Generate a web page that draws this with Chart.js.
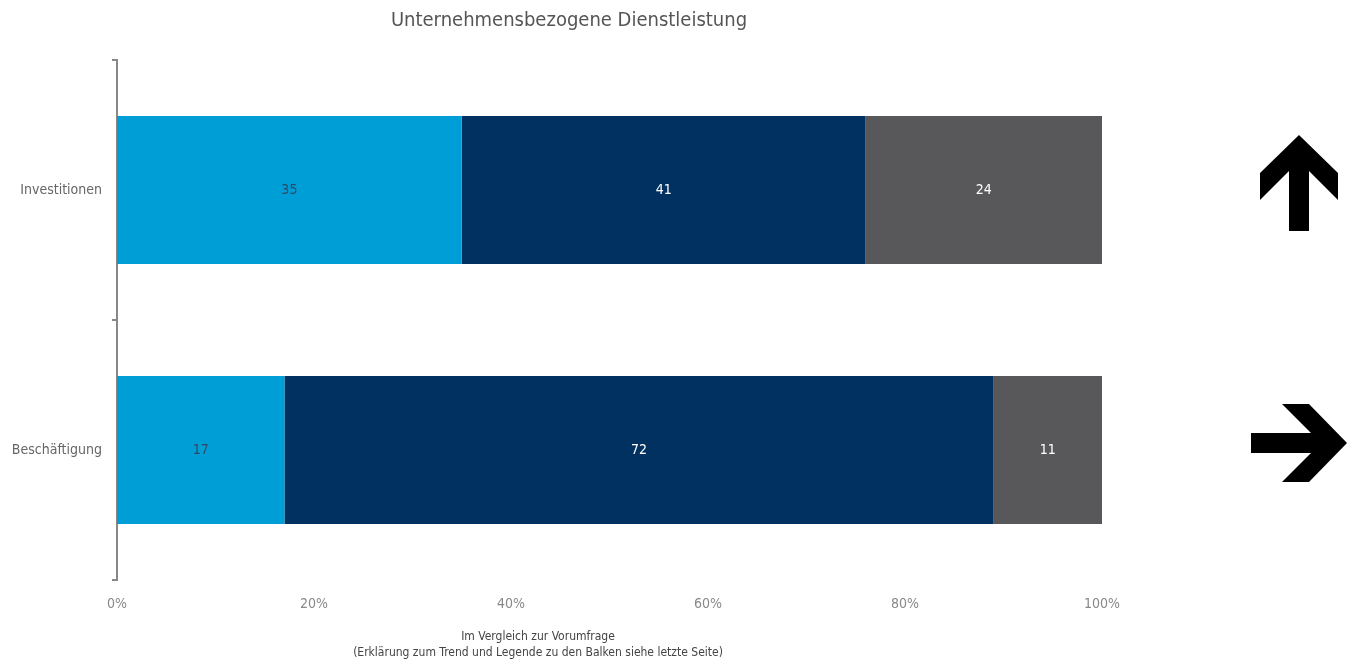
<!DOCTYPE html>
<html lang="de">
<head>
  <meta charset="UTF-8">
  <title>Unternehmensbezogene Dienstleistung</title>
  <script src="https://cdn.jsdelivr.net/npm/chart.js"></script>
  <style>
    html, body {
      margin: 0;
      padding: 0;
      background: #fff;
    }
    #wrap {
      position: relative;
      width: 1361px;
      height: 663px;
    }
  </style>
</head>
<body>
  <div id="wrap">
    <canvas id="chart"></canvas>
  </div>

  <script>
    // Chart data
    const categories = ['Investitionen', 'Beschäftigung'];
    const seriesNames = ['steigend', 'gleich', 'fallend'];
    const valuesUp = [35, 17];
    const valuesSame = [41, 72];
    const valuesDown = [24, 11];
    const trends = ['up', 'right']; // trend arrow per category
    const xTicks = [0, 20, 40, 60, 80, 100];

    const colors = ['#009ed6', '#003161', '#58585a'];
    const labelColors = ['#2b4a66', '#ffffff', '#ffffff'];
    const fontFamily = '"Liberation Sans Narrow", "DejaVu Sans Condensed", "Open Sans", sans-serif';

    const AXIS_LEFT = 117;
    const AXIS_TOP = 60;
    const AXIS_BOTTOM = 580;

    // value labels in the middle of each segment
    const segmentLabels = {
      id: 'segmentLabels',
      afterDatasetsDraw(chart) {
        const ctx = chart.ctx;
        ctx.save();
        ctx.font = '14px ' + fontFamily;
        ctx.textAlign = 'center';
        ctx.textBaseline = 'middle';
        chart.data.datasets.forEach((ds, di) => {
          const meta = chart.getDatasetMeta(di);
          meta.data.forEach((bar, i) => {
            const cx = (bar.x + bar.base) / 2;
            ctx.fillStyle = labelColors[di];
            ctx.fillText(String(ds.data[i]), cx, bar.y);
          });
        });
        ctx.restore();
      }
    };

    // title, footnote and trend arrows
    const extras = {
      id: 'extras',
      afterDraw(chart) {
        const ctx = chart.ctx;
        const area = chart.chartArea;
        ctx.save();

        ctx.fillStyle = '#555';
        ctx.font = '20px ' + fontFamily;
        ctx.textAlign = 'center';
        ctx.textBaseline = 'middle';
        ctx.fillText('Unternehmensbezogene Dienstleistung', 569, 21);

        ctx.fillStyle = '#444';
        ctx.font = '12px ' + fontFamily;
        ctx.fillText('Im Vergleich zur Vorumfrage', 538, 637);
        ctx.fillText('(Erklärung zum Trend und Legende zu den Balken siehe letzte Seite)', 538, 653);

        // arrow outline pointing right, centred on (0,0)
        const shape = [[48, 0], [10, -39], [-17, -39], [12, -10], [-48, -10],
                       [-48, 10], [12, 10], [-17, 39], [10, 39]];
        const angles = { up: -Math.PI / 2, right: 0, down: Math.PI / 2 };
        const yScale = chart.scales.y;
        ctx.fillStyle = '#000';
        trends.forEach((t, i) => {
          const cx = area.right + 197;
          const cy = yScale.getPixelForValue(i) - 7;
          ctx.save();
          ctx.translate(cx, cy);
          ctx.rotate(angles[t]);
          ctx.beginPath();
          shape.forEach(([px, py], k) => k ? ctx.lineTo(px, py) : ctx.moveTo(px, py));
          ctx.closePath();
          ctx.fill();
          ctx.restore();
        });
        ctx.restore();
      }
    };

    const valueSets = [valuesUp, valuesSame, valuesDown];

    new Chart(document.getElementById('chart'), {
      type: 'bar',
      data: {
        labels: categories,
        datasets: seriesNames.map((name, i) => ({
          label: name,
          data: valueSets[i],
          backgroundColor: colors[i],
          borderWidth: 0,
          categoryPercentage: 1,
          barPercentage: 0.57
        }))
      },
      options: {
        indexAxis: 'y',
        responsive: true,
        maintainAspectRatio: false,
        animation: false,
        layout: { padding: { top: AXIS_TOP, right: 259, left: 0, bottom: 0 } },
        plugins: {
          legend: { display: false },
          tooltip: { enabled: false }
        },
        scales: {
          x: {
            stacked: true,
            min: 0,
            max: 100,
            afterBuildTicks(scale) {
              scale.ticks = xTicks.map(v => ({ value: v }));
            },
            afterFit(scale) {
              scale.height = 663 - AXIS_BOTTOM;
            },
            grid: { display: false, drawTicks: false },
            border: { display: false },
            ticks: {
              color: '#888',
              padding: 16,
              font: { family: fontFamily, size: 14 },
              callback: v => v + '%'
            }
          },
          y: {
            stacked: true,
            afterFit(scale) {
              scale.width = AXIS_LEFT;
            },
            grid: {
              offset: true,
              drawOnChartArea: false,
              drawTicks: true,
              tickLength: 5,
              color: '#888',
              lineWidth: 2
            },
            border: { display: true, color: '#888', width: 2 },
            ticks: {
              color: '#666',
              padding: 10,
              font: { family: fontFamily, size: 14 }
            }
          }
        }
      },
      plugins: [segmentLabels, extras]
    });
  </script>
</body>
</html>
